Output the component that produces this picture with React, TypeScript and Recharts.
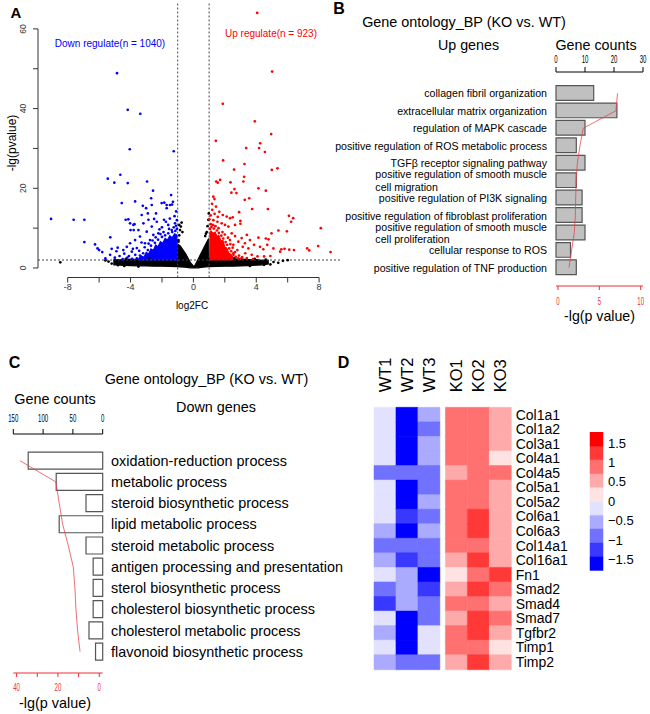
import React, { useLayoutEffect, useRef, useState } from 'react';
import {
  ComposedChart,
  BarChart,
  Bar,
  Line,
  Area,
  Scatter,
  XAxis,
  YAxis,
  ReferenceLine,
  Cell,
} from 'recharts';

const FONT = '"Liberation Sans", Arial, Helvetica, sans-serif';

// ---------- A: volcano ----------
const volcanoXTicks = [-8, -6, -4, -2, 0, 2, 4, 6, 8];
const volcanoYTicks = [0, 10, 20, 30, 40, 50, 60];
const pCut = 2;
const fcCut = 1;

// dense non-significant cloud, outline: [log2FC, low, high]
const blackCloud = [
  [-5.1, 0.8, 1.9], [-4.8, 0.75, 2.1], [-4.4, 0.65, 2.0], [-4.0, 0.6, 2.2], [-3.5, 0.55, 2.1],
  [-3.0, 0.5, 2.3], [-2.5, 0.45, 2.2], [-2.0, 0.45, 2.4], [-1.5, 0.4, 2.3],
  [-1.03, 0.35, 2.5], [-1.0, 0.35, 6.0], [-0.85, 0.3, 5.6], [-0.5, 0.2, 3.6], [-0.2, 0.05, 1.4],
  [0.05, 0.0, 0.3], [0.3, 0.05, 2.2], [0.6, 0.2, 4.6], [0.97, 0.3, 7.4], [1.0, 0.35, 2.5],
  [1.5, 0.4, 2.3], [2.0, 0.45, 2.4], [2.5, 0.45, 2.2], [3.0, 0.5, 2.3], [3.5, 0.6, 2.1],
  [4.0, 0.7, 2.1], [4.4, 0.8, 1.9], [4.8, 1.0, 1.9],
];
const blackPts = [
  [-8.47, 1.43], [-5.4, 1.6], [-5.2, 1.1], [-4.8, 0.7], [-4.4, 0.5], [-3.5, 0.35], [-5.6, 1.9],
  [-0.95, 7.0], [-0.9, 8.2], [-0.85, 9.5], [-0.8, 10.4], [-0.75, 11.4], [-0.7, 9.0], [-0.95, 6.6],
  [-0.9, 10.8], [0.75, 8.0], [0.85, 9.0], [0.9, 10.5], [0.95, 12.1], [0.98, 13.7], [0.8, 8.6],
  [4.9, 0.9], [5.1, 1.5], [5.4, 1.3], [5.7, 1.8], [6.0, 1.95], [4.5, 0.8], [3.6, 0.5],
  [-5.0, 2.1], [-4.3, 2.3], [-2.8, 2.5], [2.6, 2.45], [3.9, 2.3], [4.6, 2.1],
];
// solid cores of the significant groups: [log2FC, low, high]
const blueCore = [
  [-3.5, 2.0, 2.3], [-3.3, 2.0, 3.0], [-3.15, 2.0, 2.7], [-3.0, 2.0, 3.9], [-2.85, 2.0, 3.5],
  [-2.7, 2.0, 4.8], [-2.55, 2.0, 4.4], [-2.4, 2.0, 5.8], [-2.25, 2.0, 5.3], [-2.1, 2.0, 6.6],
  [-1.95, 2.0, 6.2], [-1.8, 2.0, 7.4], [-1.65, 2.0, 7.0], [-1.5, 2.0, 8.1], [-1.35, 2.0, 7.6],
  [-1.2, 2.0, 8.6], [-1.02, 2.0, 8.2],
];
const redCore = [
  [1.02, 2.0, 8.4], [1.12, 2.0, 9.3], [1.25, 2.0, 8.7], [1.38, 2.0, 9.0], [1.5, 2.0, 7.9],
  [1.62, 2.0, 8.2], [1.75, 2.0, 6.8], [1.88, 2.0, 6.9], [2.0, 2.0, 5.2], [2.12, 2.0, 5.0],
  [2.25, 2.0, 3.7], [2.4, 2.0, 3.4], [2.55, 2.0, 2.4],
];
const bluePts = [
  [-4.86, 48.9], [-4.18, 39.7], [-3.38, 38.7], [-4.05, 29.8], [-1.25, 29.3], [-5.45, 22.4],
  [-4.65, 23.4], [-5.03, 21.4], [-4.18, 21.3], [-2.95, 21.7], [-2.57, 19.4], [-1.42, 18.3],
  [-4.56, 16.3], [-3.71, 16.7], [-9.06, 12.3], [-7.62, 12.1], [-6.94, 12.1], [-6.94, 6.5],
  [-6.26, 5.9], [-6.1, 4.9], [-6.0, 4.5], [-5.8, 4.0], [-5.29, 7.7], [-5.2, 4.8], [-4.82, 5.1],
  [-5.3, 3.3], [-4.9, 4.2], [-4.31, 12.1], [-4.03, 11.2], [-3.75, 11.0], [-4.0, 9.5], [-3.8, 9.5],
  [-3.22, 15.6], [-2.9, 13.7], [-2.69, 17.5], [-1.85, 16.4], [-1.7, 15.8], [-1.36, 15.9],
  [-3.29, 13.3], [-3.01, 15.0], [-2.65, 15.8], [-2.38, 13.7], [-2.02, 16.3], [-1.7, 15.0],
  [-1.49, 15.8], [-1.3, 16.6], [-4.14, 12.2], [-3.82, 10.8], [-3.5, 9.5], [-3.18, 11.2],
  [-2.86, 12.1], [-2.65, 10.4], [-2.33, 11.6], [-2.16, 9.7], [-1.87, 12.1], [-1.6, 10.8],
  [-1.38, 9.5], [-1.17, 11.2], [-3.4, 7.9], [-3.71, 7.0], [-4.03, 6.2], [-4.24, 5.3],
  [-4.46, 4.5], [-3.92, 4.1], [-3.6, 5.0], [-3.08, 6.2], [-2.76, 7.0], [-2.55, 8.3],
  [-2.97, 9.1], [-2.23, 8.7], [-3.6, 2.4], [-3.4, 3.1], [-3.2, 3.7], [-2.9, 4.5], [-2.7, 5.6],
  [-2.45, 6.3], [-2.25, 7.1], [-2.0, 7.8], [-1.8, 8.2], [-1.6, 8.7], [-1.35, 9.0], [-1.15, 9.3],
  [-1.05, 9.8], [-3.9, 2.3], [-4.2, 2.6], [-4.5, 2.2], [-3.7, 3.3], [-3.45, 4.3], [-3.1, 5.2],
  [-2.85, 6.1], [-2.6, 6.9], [-2.4, 7.7], [-2.1, 8.5], [-1.9, 9.0], [-1.55, 9.8], [-1.25, 10.2],
  [-1.1, 10.6], [-4.7, 3.0], [-4.4, 3.6], [-4.1, 3.0], [-3.85, 4.8], [-3.3, 6.4], [-2.0, 10.2],
  [-1.75, 11.6], [-1.5, 12.4], [-1.2, 13.0], [-1.1, 14.2], [-2.5, 12.3], [-1.05, 12.0],
  [-5.6, 2.4], [-5.0, 2.6],
];
const redPts = [
  [4.06, 64.0], [5.01, 49.3], [1.87, 41.2], [3.91, 36.8], [4.95, 33.6], [1.43, 31.9], [4.25, 31.3],
  [3.36, 30.1], [4.18, 30.1], [4.55, 29.1], [1.89, 27.0], [3.25, 26.1], [4.99, 24.6], [5.35, 25.0],
  [2.59, 24.7], [3.23, 22.9], [3.18, 21.7], [1.45, 21.7], [1.55, 21.4], [1.7, 22.1], [2.36, 21.5],
  [4.14, 20.0], [4.61, 19.4], [2.61, 19.8], [2.42, 18.9], [2.74, 18.8], [1.27, 17.9], [1.34, 17.3],
  [3.27, 17.1], [3.55, 17.5], [3.74, 14.8], [4.74, 14.8], [2.91, 14.0], [6.08, 13.1], [6.35, 12.5],
  [6.22, 11.6], [2.99, 11.8], [2.99, 11.1], [8.11, 10.0], [5.41, 9.4], [5.95, 9.2], [4.97, 8.7],
  [4.14, 7.6], [4.61, 7.4], [4.78, 7.2], [7.24, 4.9], [7.37, 4.4], [7.94, 5.5], [8.73, 4.0],
  [5.6, 4.7], [5.8, 4.8], [6.1, 4.6], [6.4, 4.5], [1.19, 16.1], [1.44, 15.4], [1.65, 14.1],
  [1.87, 13.3], [2.12, 12.9], [2.33, 12.5], [2.5, 12.7], [1.27, 12.0], [1.53, 11.6], [1.8, 11.2],
  [2.01, 10.8], [2.23, 10.4], [2.65, 10.8], [3.4, 8.3], [3.6, 7.0], [3.86, 5.8], [4.24, 5.3],
  [4.45, 4.7], [4.7, 5.8], [5.09, 4.9], [5.52, 4.1], [3.14, 5.3], [2.8, 4.5], [2.54, 3.7],
  [3.3, 3.7], [3.71, 3.3], [4.08, 2.9], [4.5, 2.9], [4.9, 3.0], [2.44, 8.7], [2.65, 8.0],
  [2.33, 7.0], [2.86, 6.6], [3.07, 7.5], [2.54, 5.8], [3.28, 6.2], [3.5, 4.9], [1.05, 9.8],
  [1.15, 10.3], [1.3, 9.9], [1.5, 9.4], [1.62, 8.8], [1.78, 8.1], [1.9, 7.4], [2.05, 6.5],
  [2.15, 5.8], [2.28, 4.9], [2.4, 4.2], [2.55, 3.3], [2.7, 2.8], [2.85, 2.4], [3.0, 2.3],
  [1.1, 11.0], [1.25, 10.8], [1.4, 10.5], [1.6, 10.0], [1.85, 9.0], [2.0, 8.4], [2.2, 7.6],
  [2.35, 6.0], [2.5, 5.1], [2.65, 4.0], [2.9, 3.1], [3.1, 2.7], [3.4, 2.5], [3.8, 2.2],
  [1.02, 12.2], [1.1, 13.2], [1.2, 14.6], [1.55, 12.8], [1.35, 13.6],
];

// ---------- B: GO up ----------
const upTerms = [
  'collagen fibril organization',
  'extracellular matrix organization',
  'regulation of MAPK cascade',
  'positive regulation of ROS metabolic process',
  'TGFβ receptor signaling pathway',
  'positive regulation of smooth muscle\ncell migration',
  'positive regulation of PI3K signaling',
  'positive regulation of fibroblast proliferation',
  'positive regulation of smooth muscle\ncell proliferation',
  'cellular response to ROS',
  'positive regulation of TNF production',
];
const upCounts = [13, 21, 10, 7, 10, 7, 9, 9, 10, 5, 7];
const upLogP = [7.2, 7.0, 3.06, 2.66, 2.34, 2.2, 2.14, 2.1, 1.97, 1.65, 1.33];

// ---------- C: GO down ----------
const downTerms = [
  'oxidation-reduction process',
  'metabolic process',
  'steroid biosynthetic process',
  'lipid metabolic process',
  'steroid metabolic process',
  'antigen processing and presentation',
  'sterol biosynthetic process',
  'cholesterol biosynthetic process',
  'cholesterol metabolic process',
  'flavonoid biosynthetic process',
];
const downCounts = [125, 78, 28, 73, 28, 16, 16, 16, 23, 12];
const downLogP = [38.4, 21, 19.4, 17.7, 15, 12.6, 11.8, 11.3, 10.5, 9.3];

// ---------- D: heatmap ----------
const samples = ['WT1', 'WT2', 'WT3', 'KO1', 'KO2', 'KO3'];
const genes = [
  'Col1a1', 'Col1a2', 'Col3a1', 'Col4a1', 'Col4a5', 'Col5a1', 'Col5a2', 'Col6a1', 'Col6a3',
  'Col14a1', 'Col16a1', 'Fn1', 'Smad2', 'Smad4', 'Smad7', 'Tgfbr2', 'Timp1', 'Timp2',
];
const zScores = [
  [-0.18, -1.6, -0.55, 0.9, 0.9, 0.55],
  [-0.18, -1.6, -0.9, 0.9, 0.9, 0.55],
  [-0.18, -1.6, -0.55, 0.9, 0.9, 0.55],
  [-0.18, -1.6, -0.55, 0.9, 0.9, 0.18],
  [-0.9, -0.9, -0.9, 0.55, 0.9, 0.9],
  [-0.18, -1.6, -0.9, 0.9, 0.9, 0.55],
  [-0.18, -1.6, -0.55, 0.9, 0.9, 0.55],
  [-0.18, -1.25, -0.9, 0.9, 1.25, 0.55],
  [-0.55, -1.6, -0.55, 0.9, 1.25, 0.55],
  [-0.9, -0.9, -0.9, 0.9, 0.9, 0.55],
  [-0.55, -1.25, -0.9, 0.55, 1.25, 0.55],
  [-0.18, -0.55, -1.6, 0.18, 0.9, 1.25],
  [-0.9, -0.55, -1.25, 0.55, 1.25, 0.9],
  [-1.25, -0.55, -0.9, 0.9, 0.9, 0.55],
  [-0.18, -1.6, -0.9, 0.55, 1.25, 0.9],
  [-0.55, -1.6, -0.18, 0.9, 1.25, 0.55],
  [-0.18, -1.6, -0.18, 0.9, 0.9, 0.18],
  [-0.55, -0.9, -0.9, 0.55, 1.25, 0.55],
];
const breaks = [-1.78, -1.42, -1.07, -0.71, -0.36, 0, 0.36, 0.71, 1.07, 1.42, 1.78];
const palette = [
  '#0000FF', '#3838FF', '#7171FF', '#AAAAFF', '#E2E2FF',
  '#FFE2E2', '#FFAAAA', '#FF7171', '#FF3838', '#FF0000',
];
const legendTicks = [-1.5, -1, -0.5, 0, 0.5, 1, 1.5];

const colorFor = (z: number) => {
  for (let i = 0; i < palette.length; i++) if (z < breaks[i + 1]) return palette[i];
  return palette[palette.length - 1];
};

const pts = (a: number[][]) => a.map(([x, y]) => ({ x, y }));
const band = (a: number[][]) => a.map(([x, lo, hi]) => ({ x, band: [lo, hi] }));

const upRows = upTerms.map((term, i) => ({ term, count: upCounts[i], p: upLogP[i] }));
const downRows = downTerms.map((term, i) => ({ term, count: downCounts[i], p: downLogP[i] }));
const cellKeys = ['c0', 'c1', 'c2', 'gap', 'c3', 'c4', 'c5'];
const heatRows = genes.map((gene, i) => ({
  gene, c0: 1, c1: 1, c2: 1, gap: 0.25, c3: 1, c4: 1, c5: 1, z: zScores[i],
}));
const colCenters = [0.5, 1.5, 2.5, 3.75, 4.75, 5.75];

// colour key: bins stacked outward from 0 (negatives down, positives up)
const zeroBin = breaks.indexOf(0);
const legendOrder = [
  ...palette.map((_, i) => i).filter((i) => i < zeroBin).reverse(),
  ...palette.map((_, i) => i).filter((i) => i >= zeroBin),
];
const legendRow: Record<string, number | string> = { k: 'key' };
legendOrder.forEach((i) => {
  legendRow[`b${i}`] = breaks[i] < 0 ? breaks[i] - breaks[i + 1] : breaks[i + 1] - breaks[i];
});

const yMinA = -2.39;
const xMinA = -9.89;

function Txt({ x, y, size, children, color = '#000', bold = false, rotate = 0 }: any) {
  return (
    <div
      style={{
        position: 'absolute', left: x, top: y,
        transform: `translate(-50%,-50%)${rotate ? ` rotate(${rotate}deg)` : ''}`,
        fontSize: size, fontWeight: bold ? 700 : 400, color, whiteSpace: 'nowrap',
        lineHeight: 1, fontFamily: FONT,
      }}
    >
      {children}
    </div>
  );
}

const dot = (fill: string) => (p: any) => <circle cx={p.cx} cy={p.cy} r={1.35} fill={fill} />;

function YTickA({ x, y, payload }: any) {
  if (payload.value % 20 !== 0) return null;
  return (
    <text x={x} y={y} transform={`rotate(-90, ${x}, ${y})`} textAnchor="middle" fontSize={8.5} fill="#333" fontFamily={FONT}>
      {payload.value}
    </text>
  );
}

function Squish({ x, y, payload, fill, below, fmt }: any) {
  const label = fmt ? fmt(payload.value) : payload.value;
  if (label === '') return null;
  return (
    <text transform={`translate(${x},${y + (below ? 8 : 0)}) scale(0.55,1)`} textAnchor="middle" fontSize={11} fill={fill} fontFamily={FONT}>
      {label}
    </text>
  );
}

function TermLabel({ x, y, payload }: any) {
  const lines = String(payload.value).split('\n');
  const ref = useRef<SVGTextElement>(null);
  const [w, setW] = useState(0);
  useLayoutEffect(() => {
    if (ref.current) setW(ref.current.getComputedTextLength());
  }, [payload.value]);
  const st = { fontSize: 11.8, fill: '#000', fontFamily: FONT };
  return (
    <g transform={`translate(${x},${y}) scale(0.9,1)`}>
      {lines.length === 1 ? (
        <text x={0} y={0} dy="0.35em" textAnchor="end" {...st}>{lines[0]}</text>
      ) : (
        <>
          <text ref={ref} x={0} y={-6.3} dy="0.35em" textAnchor="end" {...st}>{lines[0]}</text>
          <text x={-w} y={6.3} dy="0.35em" textAnchor="start" {...st}>{lines[1]}</text>
        </>
      )}
    </g>
  );
}

function ColTick({ x, y, payload }: any) {
  const i = colCenters.indexOf(payload.value);
  const bx = x + 5.7;
  return (
    <text x={bx} y={y} transform={`rotate(-90, ${bx}, ${y})`} textAnchor="start" fontSize={16.5} fill="#000" fontFamily={FONT}>
      {samples[i]}
    </text>
  );
}

export default function App() {
  return (
    <div style={{ position: 'absolute', left: 0, top: 0, width: 650, height: 714, background: '#fff', fontFamily: FONT }}>
      {/* ---------------- A ---------------- */}
      <div style={{ position: 'absolute', left: 0, top: 0 }}>
        <ComposedChart width={345} height={312} margin={{ top: 3, right: 5, bottom: 14.5, left: 0 }}>
          <XAxis
            type="number" dataKey="x" domain={[xMinA, 9.33]} ticks={volcanoXTicks} allowDataOverflow
            axisLine={false} tickSize={5} tickMargin={1} height={20} stroke="#333" interval={0}
            tickFormatter={(v: number) => (v % 4 === 0 ? String(v) : '')}
            tick={{ fontSize: 9, fill: '#333', fontFamily: FONT }}
          />
          <YAxis
            type="number" dataKey="y" domain={[yMinA, 66.5]} ticks={volcanoYTicks} allowDataOverflow
            axisLine={false} tickSize={5} tickMargin={7} width={38} stroke="#333" interval={0} tick={<YTickA />}
          />
          <Area data={band(blackCloud)} dataKey="band" type="linear" fill="#000" fillOpacity={1} stroke="#000" strokeWidth={1.2} isAnimationActive={false} />
          <Scatter data={pts(blackPts)} fill="#000" shape={dot('#000')} isAnimationActive={false} />
          <Area data={band(blueCore)} dataKey="band" type="linear" fill="#0000FF" fillOpacity={1} stroke="#0000FF" strokeWidth={1.2} isAnimationActive={false} />
          <Area data={band(redCore)} dataKey="band" type="linear" fill="#FF0000" fillOpacity={1} stroke="#FF0000" strokeWidth={1.2} isAnimationActive={false} />
          <Scatter data={pts(bluePts)} fill="#0000FF" shape={dot('#0000FF')} isAnimationActive={false} />
          <Scatter data={pts(redPts)} fill="#FF0000" shape={dot('#FF0000')} isAnimationActive={false} />
          <ReferenceLine x={-fcCut} stroke="#444" strokeDasharray="2 2" />
          <ReferenceLine x={fcCut} stroke="#444" strokeDasharray="2 2" />
          <ReferenceLine y={pCut} stroke="#444" strokeDasharray="2 2" />
          <ReferenceLine segment={[{ x: -8, y: yMinA }, { x: 8, y: yMinA }]} stroke="#333" ifOverflow="visible" />
          <ReferenceLine segment={[{ x: xMinA, y: 0 }, { x: xMinA, y: 60 }]} stroke="#333" ifOverflow="visible" />
        </ComposedChart>
      </div>
      <Txt x={16} y={12} size={15} bold>A</Txt>
      <Txt x={110} y={44} size={10} color="#0000FF">Down regulate(n = 1040)</Txt>
      <Txt x={271} y={34} size={10} color="#FF0000">Up regulate(n = 923)</Txt>
      <Txt x={192} y={306} size={10}>log2FC</Txt>
      <Txt x={11.5} y={143} size={12} rotate={-90}>-lg(pvalue)</Txt>

      {/* ---------------- B ---------------- */}
      <div style={{ position: 'absolute', left: 330, top: 40 }}>
        <ComposedChart layout="vertical" width={320} height={275} data={upRows} margin={{ top: 12, right: 7, bottom: 9, left: 0 }}>
          <XAxis
            xAxisId="cnt" type="number" orientation="top" domain={[0, 30]} ticks={[0, 10, 20, 30]}
            height={20} tickSize={5} tickMargin={4} stroke="#000" interval={0}
            tick={(p: any) => <Squish {...p} fill="#000" />}
          />
          <XAxis
            xAxisId="p" type="number" orientation="bottom" domain={[-0.24, 10.28]} ticks={[0, 5, 10]}
            height={20} tickSize={4} tickMargin={7} stroke="#E8303A" allowDataOverflow interval={0}
            tick={(p: any) => <Squish {...p} fill="#E8303A" below />}
          />
          <YAxis
            type="category" dataKey="term" width={226} axisLine={false} tickLine={false}
            tickSize={0} tickMargin={9} padding={{ top: 12.6, bottom: 9.6 }} interval={0}
            tick={(p: any) => <TermLabel {...p} />}
          />
          <Bar xAxisId="cnt" dataKey="count" barSize={14.7} fill="#C0C0C0" stroke="#555" strokeWidth={1.2} isAnimationActive={false} />
          <Line xAxisId="p" dataKey="p" type="linear" stroke="#E8404A" strokeWidth={0.9} strokeOpacity={0.85} dot={false} isAnimationActive={false} />
        </ComposedChart>
      </div>
      <Txt x={339} y={9} size={16} bold>B</Txt>
      <Txt x={464} y={22} size={14.4}>Gene ontology_BP (KO vs. WT)</Txt>
      <Txt x={468.5} y={45} size={14.3}>Up genes</Txt>
      <Txt x={596} y={45} size={14.3}>Gene counts</Txt>
      <Txt x={599.5} y={316} size={14.2}>-lg(p value)</Txt>

      {/* ---------------- C ---------------- */}
      <div style={{ position: 'absolute', left: 0, top: 380 }}>
        <ComposedChart layout="vertical" width={350} height={320} data={downRows} margin={{ top: 34, right: 2.3, bottom: 7, left: 13.3 }}>
          <XAxis
            xAxisId="cnt" type="number" orientation="top" reversed domain={[0, 150]} ticks={[0, 50, 100, 150]}
            height={20} tickSize={5} tickMargin={7} stroke="#000" interval={0}
            tick={(p: any) => <Squish {...p} fill="#000" />}
          />
          <XAxis
            xAxisId="p" type="number" orientation="bottom" reversed domain={[-1.65, 41.6]} ticks={[0, 10, 20, 30, 40]}
            height={20} tickSize={4} tickMargin={6} stroke="#E8303A" allowDataOverflow interval={0}
            tick={(p: any) => <Squish {...p} fill="#E8303A" below fmt={(v: number) => (v % 20 === 0 ? String(v) : '')} />}
          />
          <YAxis
            type="category" dataKey="term" orientation="right" width={245} axisLine={false} tickLine={false}
            tickSize={0} tickMargin={8.3} padding={{ top: 16.1, bottom: 10.7 }} interval={0}
            tick={{ fontSize: 14.4, fill: '#000', fontFamily: FONT }}
          />
          <Bar xAxisId="cnt" dataKey="count" barSize={17} fill="#FFFFFF" stroke="#555" strokeWidth={1.2} isAnimationActive={false} />
          <Line xAxisId="p" dataKey="p" type="linear" stroke="#E8404A" strokeWidth={0.9} strokeOpacity={0.85} dot={false} isAnimationActive={false} />
        </ComposedChart>
      </div>
      <Txt x={14.5} y={362.5} size={16} bold>C</Txt>
      <Txt x={206.5} y={379} size={14.4}>Gene ontology_BP (KO vs. WT)</Txt>
      <Txt x={55} y={399} size={14.4}>Gene counts</Txt>
      <Txt x={216} y={407} size={14.4}>Down genes</Txt>
      <Txt x={55} y={703} size={14.4}>-lg(p value)</Txt>

      {/* ---------------- D ---------------- */}
      <div style={{ position: 'absolute', left: 340, top: 340 }}>
        <BarChart layout="vertical" width={240} height={340} data={heatRows} barCategoryGap={0} margin={{ top: 7.3, right: 8.7, bottom: 10.7, left: 34 }}>
          <XAxis
            type="number" orientation="top" domain={[0, 6.25]} ticks={colCenters} height={60} interval={0}
            axisLine={false} tickLine={false} tickSize={0} tickMargin={15} tick={<ColTick />}
          />
          <YAxis
            type="category" dataKey="gene" orientation="right" width={60} axisLine={false} tickLine={false}
            tickSize={0} tickMargin={4.4} interval={0} tick={{ fontSize: 14, fill: '#000', fontFamily: FONT }}
          />
          {cellKeys.map((k) => {
            const col = k === 'gap' ? -1 : Number(k.slice(1));
            return (
              <Bar key={k} dataKey={k} stackId="h" isAnimationActive={false}>
                {heatRows.map((r, i) => {
                  const c = col < 0 ? 'transparent' : colorFor(r.z[col]);
                  return <Cell key={i} fill={c} stroke={col < 0 ? 'none' : c} strokeWidth={0.5} />;
                })}
              </Bar>
            );
          })}
        </BarChart>
      </div>
      <div style={{ position: 'absolute', left: 580, top: 420 }}>
        <BarChart width={70} height={160} data={[legendRow]} stackOffset="sign" barCategoryGap={0} margin={{ top: 12, right: 7, bottom: 9.3, left: 10 }}>
          <XAxis dataKey="k" type="category" hide />
          <YAxis
            type="number" orientation="right" domain={[-1.78, 1.78]} ticks={legendTicks} width={40}
            axisLine={false} tickLine={false} tickSize={0} tickMargin={5} interval={0} allowDataOverflow
            tickFormatter={(v: number) => (v < 0 ? '\u2212' + Math.abs(v) : String(v))}
            tick={{ fontSize: 13, fill: '#000', fontFamily: FONT, textAnchor: 'start' }}
          />
          {legendOrder.map((i) => (
            <Bar key={i} dataKey={`b${i}`} stackId="key" fill={palette[i]} stroke={palette[i]} strokeWidth={0.5} isAnimationActive={false} />
          ))}
        </BarChart>
      </div>
      <Txt x={343.5} y={362.5} size={16} bold>D</Txt>
    </div>
  );
}
